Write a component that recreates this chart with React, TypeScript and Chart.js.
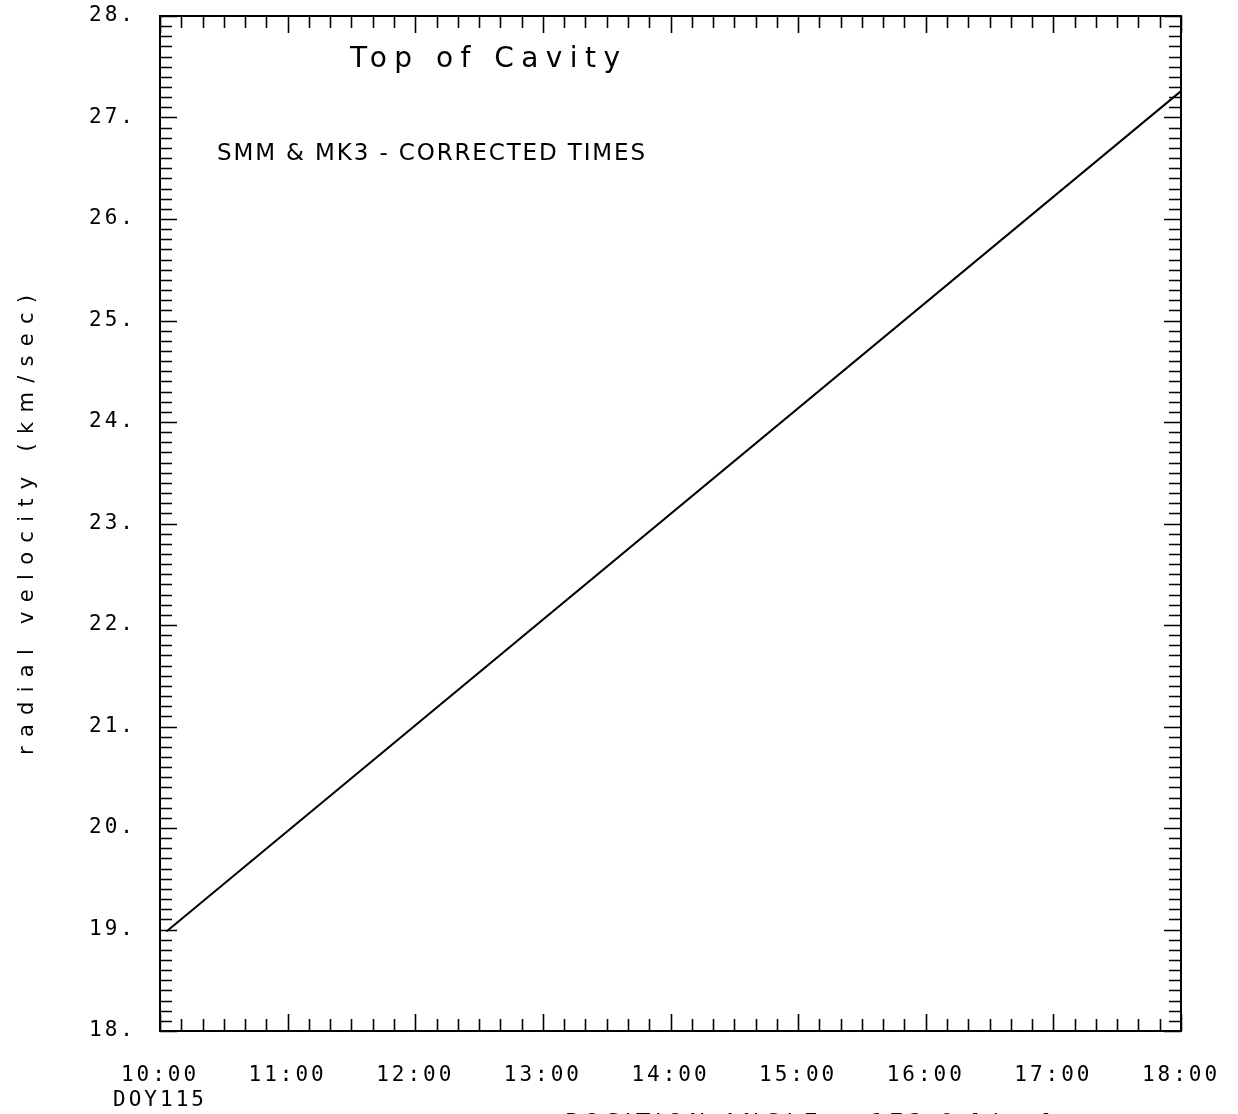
import React, { useEffect, useRef } from "react";
import { Chart, registerables } from "chart.js";

Chart.register(...registerables);

// ---- data ----
const timeHours = [10.05, 18.0];
const velocities = [18.98, 27.26];

const xTickValues = [10, 11, 12, 13, 14, 15, 16, 17, 18];
const xTickLabels = ["10:00", "11:00", "12:00", "13:00", "14:00", "15:00", "16:00", "17:00", "18:00"];
const dayLabel = "DOY115";
const yTickValues = [18, 19, 20, 21, 22, 23, 24, 25, 26, 27, 28];
const yTickLabels = ["18.", "19.", "20.", "21.", "22.", "23.", "24.", "25.", "26.", "27.", "28."];

const titleText = "Top of Cavity";
const subtitleText = "SMM & MK3 - CORRECTED TIMES";
const yAxisTitle = "radial velocity (km/sec)";
const footerText = "POSITION ANGLE = 172.0 [deg]";

function drawSpaced(ctx: CanvasRenderingContext2D, text: string, x: number, y: number, width: number, font: string) {
  ctx.font = font;
  (ctx as any).letterSpacing = "0px";
  const w0 = ctx.measureText(text).width;
  const ls = (width - w0) / Math.max(1, text.length - 1);
  (ctx as any).letterSpacing = ls + "px";
  ctx.textAlign = "left";
  ctx.fillText(text, x, y);
}

const framePlugin = {
  id: "frame",
  beforeDraw(chart: any) {
    const ctx = chart.ctx;
    ctx.save();
    ctx.fillStyle = "#ffffff";
    ctx.fillRect(0, 0, chart.width, chart.height);
    ctx.restore();
    (ctx as any).letterSpacing = "3px";
  },
  afterDraw(chart: any) {
    const ctx: CanvasRenderingContext2D = chart.ctx;
    const ca = chart.chartArea;
    const xs = chart.scales.x;
    const ys = chart.scales.y;
    ctx.save();
    ctx.strokeStyle = "#000";
    ctx.lineWidth = 2;
    ctx.strokeRect(ca.left, ca.top, ca.right - ca.left, ca.bottom - ca.top);
    ctx.lineWidth = 1.6;
    ctx.beginPath();
    // x ticks every 10 minutes
    for (let k = 0; k <= 48; k++) {
      const v = xs.min + k / 6;
      const px = Math.round(xs.getPixelForValue(v)) + 0.5;
      const len = k % 6 === 0 ? 17 : 12;
      ctx.moveTo(px, ca.top);
      ctx.lineTo(px, ca.top + len);
      ctx.moveTo(px, ca.bottom);
      ctx.lineTo(px, ca.bottom - len);
    }
    // y ticks every 0.1
    for (let k = 0; k <= 100; k++) {
      const v = ys.min + k / 10;
      const py = Math.round(ys.getPixelForValue(v)) + 0.5;
      const len = k % 10 === 0 ? 17 : 12;
      ctx.moveTo(ca.left, py);
      ctx.lineTo(ca.left + len, py);
      ctx.moveTo(ca.right, py);
      ctx.lineTo(ca.right - len, py);
    }
    ctx.stroke();

    ctx.fillStyle = "#000";
    ctx.textBaseline = "alphabetic";
    drawSpaced(ctx, titleText, 350, 67, 270, "28px 'DejaVu Sans'");
    drawSpaced(ctx, subtitleText, 217, 160, 428, "23px 'DejaVu Sans'");
    drawSpaced(ctx, footerText, 565, 1129, 485, "22px 'DejaVu Sans'");

    // y axis title rotated
    ctx.save();
    ctx.translate(33, 755);
    ctx.rotate(-Math.PI / 2);
    drawSpaced(ctx, yAxisTitle, 0, 0, 460, "21px 'DejaVu Sans'");
    ctx.restore();
    ctx.restore();
    (ctx as any).letterSpacing = "0px";
  },
};

export default function App() {
  const ref = useRef<HTMLCanvasElement | null>(null);
  useEffect(() => {
    document.body.style.margin = "0";
    const canvas = ref.current!;
    const chart = new Chart(canvas, {
      type: "line",
      data: {
        datasets: [
          {
            data: timeHours.map((t, i) => ({ x: t, y: velocities[i] })),
            borderColor: "#000",
            borderWidth: 2,
            pointRadius: 0,
            fill: false,
            tension: 0,
          },
        ],
      },
      options: {
        animation: false,
        responsive: false,
        devicePixelRatio: 1,
        layout: { padding: { left: 0, top: 16, right: 57, bottom: 0 } },
        plugins: { legend: { display: false }, tooltip: { enabled: false }, title: { display: false } },
        scales: {
          x: {
            type: "linear",
            min: 10,
            max: 18,
            afterFit: (s: any) => {
              s.height = 83;
              s.paddingLeft = 0;
              s.paddingRight = 0;
              s.paddingTop = 0;
              s.paddingBottom = 0;
            },
            afterBuildTicks: (s: any) => { s.ticks = xTickValues.map((v) => ({ value: v })); },
            grid: { display: false },
            border: { display: false },
            ticks: {
              color: "#000",
              padding: 24,
              maxRotation: 0,
              autoSkip: false,
              font: { family: "'DejaVu Sans Mono'", size: 21, lineHeight: 1.2 },
              callback: (value: any) => {
                const i = xTickValues.indexOf(Number(value));
                if (i < 0) return "";
                return i === 0 ? [xTickLabels[i], dayLabel] : xTickLabels[i];
              },
            },
          },
          y: {
            type: "linear",
            min: 18,
            max: 28,
            afterFit: (s: any) => {
              s.width = 160;
              s.paddingLeft = 0;
              s.paddingRight = 0;
              s.paddingTop = 0;
              s.paddingBottom = 0;
            },
            afterBuildTicks: (s: any) => { s.ticks = yTickValues.map((v) => ({ value: v })); },
            grid: { display: false },
            border: { display: false },
            ticks: {
              color: "#000",
              padding: 16,
              autoSkip: false,
              font: { family: "'DejaVu Sans Mono'", size: 21 },
              callback: (value: any) => {
                const i = yTickValues.indexOf(Number(value));
                return i < 0 ? "" : yTickLabels[i];
              },
            },
          },
        },
      },
      plugins: [framePlugin],
    });
    return () => chart.destroy();
  }, []);
  return <canvas ref={ref} width={1238} height={1114} style={{ display: "block" }} />;
}
